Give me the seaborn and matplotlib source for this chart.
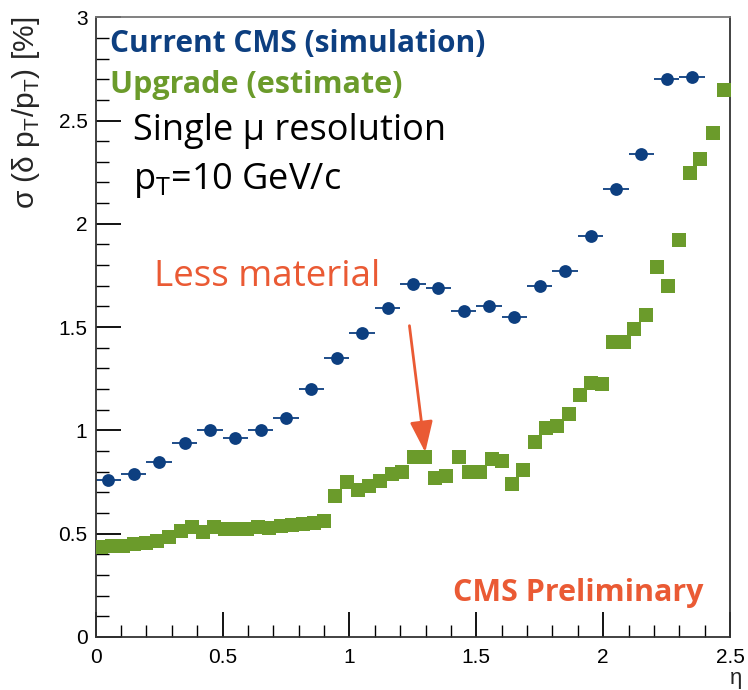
import matplotlib
matplotlib.use("Agg")
import matplotlib.pyplot as plt
from matplotlib.ticker import MultipleLocator
import seaborn as sns
import pandas as pd

# current CMS (simulation): bins of 0.1 in eta
cur_eta = [0.05, 0.15, 0.25, 0.35, 0.45, 0.55, 0.65, 0.75, 0.85, 0.95, 1.05, 1.15,
           1.25, 1.35, 1.45, 1.55, 1.65, 1.75, 1.85, 1.95, 2.05, 2.15, 2.25, 2.35]
cur_res = [0.76, 0.79, 0.845, 0.94, 1.00, 0.965, 1.00, 1.06, 1.20, 1.35, 1.47, 1.59,
           1.71, 1.69, 1.58, 1.60, 1.55, 1.70, 1.77, 1.94, 2.17, 2.34, 2.70, 2.71]

# upgrade (estimate)
upg_eta = [0.02, 0.063, 0.107, 0.15, 0.197, 0.24, 0.288, 0.335, 0.379, 0.422, 0.465,
           0.509, 0.552, 0.596, 0.639, 0.682, 0.73, 0.773, 0.817, 0.86, 0.90, 0.943,
           0.99, 1.034, 1.077, 1.12, 1.168, 1.207, 1.254, 1.298, 1.337, 1.381, 1.432,
           1.471, 1.515, 1.562, 1.602, 1.641, 1.684, 1.732, 1.775, 1.819, 1.866, 1.909,
           1.953, 1.996, 2.04, 2.083, 2.122, 2.17, 2.213, 2.256, 2.30, 2.343, 2.383,
           2.434, 2.477]
upg_res = [0.435, 0.44, 0.44, 0.45, 0.455, 0.465, 0.485, 0.515, 0.53, 0.51, 0.53,
           0.52, 0.52, 0.52, 0.53, 0.525, 0.535, 0.54, 0.545, 0.55, 0.56, 0.68,
           0.75, 0.71, 0.73, 0.755, 0.79, 0.80, 0.87, 0.87, 0.77, 0.78, 0.87,
           0.80, 0.80, 0.86, 0.85, 0.74, 0.81, 0.945, 1.01, 1.02, 1.08, 1.17,
           1.23, 1.225, 1.43, 1.43, 1.49, 1.56, 1.79, 1.70, 1.92, 2.245, 2.315,
           2.44, 2.65]

BLUE, GREEN, ORANGE = "#0d3f80", "#6b9b2b", "#ea5a34"
UI = ["Open Sans", "DejaVu Sans"]

sns.set_style("ticks")
plt.rcParams["font.family"] = ["Liberation Sans", "DejaVu Sans"]

cur = pd.DataFrame({"eta": cur_eta, "res": cur_res})
upg = pd.DataFrame({"eta": upg_eta, "res": upg_res})

fig = plt.figure(figsize=(7.48, 6.90), dpi=100)
ax = fig.add_axes([0.128, 0.077, 0.848, 0.898])

ax.errorbar(cur["eta"], cur["res"], xerr=0.05, yerr=0.012, fmt="none",
            ecolor=BLUE, elinewidth=1.3, capsize=0, zorder=2)
sns.scatterplot(data=cur, x="eta", y="res", ax=ax, marker="o", s=85,
                color=BLUE, edgecolor=BLUE, linewidth=0, zorder=3)
sns.scatterplot(data=upg, x="eta", y="res", ax=ax, marker="s", s=90,
                color=GREEN, edgecolor=GREEN, linewidth=0, zorder=3)

ax.set_xlim(0, 2.5)
ax.set_ylim(0, 3)
ax.xaxis.set_major_locator(MultipleLocator(0.5))
ax.xaxis.set_minor_locator(MultipleLocator(0.1))
ax.yaxis.set_major_locator(MultipleLocator(0.5))
ax.yaxis.set_minor_locator(MultipleLocator(0.1))
ax.set_xticks([0, 0.5, 1, 1.5, 2, 2.5], ["0", "0.5", "1", "1.5", "2", "2.5"])
ax.set_yticks([0, 0.5, 1, 1.5, 2, 2.5, 3], ["0", "0.5", "1", "1.5", "2", "2.5", "3"])
ax.tick_params(which="both", direction="in", labelsize=15, colors="black")
ax.tick_params(which="major", length=18, width=1.3)
ax.tick_params(which="minor", length=9, width=1.0)
ax.tick_params(axis="x", pad=8)
ax.tick_params(axis="y", pad=6)
for side in ["top", "right", "left", "bottom"]:
    ax.spines[side].set_visible(True)
    ax.spines[side].set_linewidth(1.3)
    ax.spines[side].set_color("#333333")
ax.spines["top"].set_color("#777777")

ax.set_xlabel("η", fontsize=16, loc="right")
ax.xaxis.set_label_coords(1.02, -0.05)
ax.set_ylabel(r"σ (δ p$_\mathregular{T}$/p$_\mathregular{T}$) [%]", fontsize=21.5,
              loc="top")
ax.yaxis.set_label_coords(-0.085, 1.0)

ax.text(0.055, 2.87, "Current CMS (simulation)", color=BLUE, fontsize=21.5,
        fontweight="bold", family=UI, va="center")
ax.text(0.055, 2.67, "Upgrade (estimate)", color=GREEN, fontsize=22,
        fontweight="bold", family=UI, va="center")
ax.text(0.145, 2.45, "Single μ resolution", color="black", fontsize=26,
        family=UI, va="center")
ax.text(0.145, 2.21, r"p$_\mathregular{T}$=10 GeV/c", color="black", fontsize=26,
        family=UI, va="center")
ax.text(0.23, 1.74, "Less material", color=ORANGE, fontsize=26.5,
        family=UI, va="center")
ax.text(1.41, 0.21, "CMS Preliminary", color=ORANGE, fontsize=22,
        fontweight="bold", family=UI, va="center")

ax.annotate("", xy=(1.30, 0.88), xytext=(1.235, 1.52),
            arrowprops=dict(arrowstyle="-|>,head_length=1.9,head_width=0.7",
                            color=ORANGE, lw=2))

fig.savefig("out.png", dpi=100)
